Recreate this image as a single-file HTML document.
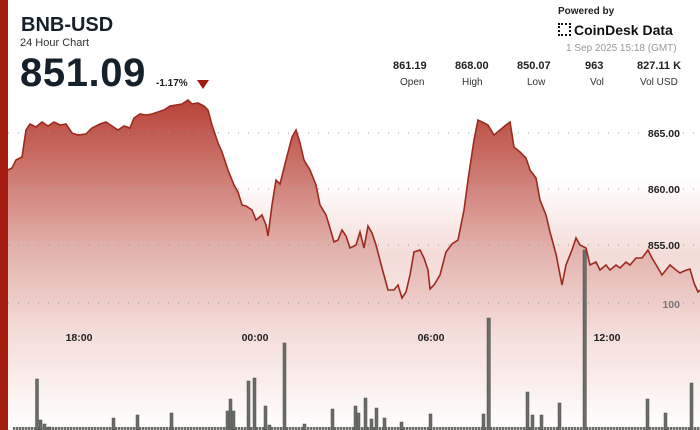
<!DOCTYPE html>
<html><head><meta charset="utf-8"><style>
body{margin:0;width:700px;height:430px;overflow:hidden;background:#fff;font-family:"Liberation Sans",sans-serif;position:relative}
.t{position:absolute;white-space:nowrap}
</style></head><body>
<svg width="700" height="430" style="position:absolute;left:0;top:0">
<defs><linearGradient id="g" x1="0" y1="100" x2="0" y2="430" gradientUnits="userSpaceOnUse">
<stop offset="0" stop-color="#b84338"/>
<stop offset="0.45" stop-color="#e2b1ab"/>
<stop offset="0.7" stop-color="#f4dcd8"/>
<stop offset="1" stop-color="#ffffff"/></linearGradient>
<linearGradient id="bg" x1="0" y1="0" x2="0" y2="1">
<stop offset="0" stop-color="#f4dcd8" stop-opacity="0"/><stop offset="0.3" stop-color="#f4dcd8"/><stop offset="1" stop-color="#fff"/></linearGradient>
<pattern id="pb" x="13" y="0" width="3" height="430" patternUnits="userSpaceOnUse"><rect x="0" y="0" width="2.4" height="430" fill="#6b6e68"/></pattern></defs>
<rect x="8" y="180" width="692" height="250" fill="url(#bg)"/>
<path fill="url(#g)" d="M8,430 L8,170 12,168 16,160 22,157 26,130 30,124 36,127 42,122 48,126 54,122 60,125 66,124 72,133 78,135 86,134 92,128 100,124 106,122 112,126 118,130 124,126 130,128 134,118 140,114 146,115 152,114 158,112 164,110 170,106 176,105 182,104 188,100 192,104 198,103 204,106 208,110 212,125 218,143 222,152 228,170 234,185 238,192 242,205 246,206 252,210 256,220 262,215 266,225 268,236 272,205 276,180 280,184 286,160 292,137 296,130 300,143 304,160 310,170 316,185 320,205 326,215 330,228 334,242 338,240 342,230 346,236 350,248 356,245 360,232 364,248 368,226 372,233 376,245 382,268 388,290 394,290 398,285 402,298 406,292 410,275 414,252 420,250 424,258 428,270 430,289 434,285 440,275 446,252 452,244 458,240 464,210 468,180 474,140 478,120 482,122 488,125 494,135 500,130 506,125 510,122 514,147 520,152 526,158 530,170 536,178 540,200 546,215 550,232 556,254 562,285 566,265 572,250 576,238 580,245 586,248 590,265 596,262 600,270 606,265 610,270 616,265 620,268 626,262 630,265 636,258 642,258 648,250 652,258 658,268 662,275 666,270 670,265 676,270 680,273 684,271 690,269 694,283 698,292 700,290 L700,430 Z"/>
<g stroke="#999" stroke-width="1" stroke-dasharray="1 9">
<line x1="8" y1="133" x2="640" y2="133"/><line x1="8" y1="189" x2="640" y2="189"/><line x1="8" y1="245" x2="640" y2="245"/><line x1="8" y1="303" x2="650" y2="303"/>
<line x1="683" y1="133" x2="700" y2="133"/><line x1="683" y1="189" x2="700" y2="189"/><line x1="683" y1="245" x2="700" y2="245"/><line x1="683" y1="303" x2="700" y2="303"/>
</g>
<rect x="13" y="427" width="687" height="3" fill="url(#pb)"/>
<g fill="#6b6e68" stroke="#4d504b" stroke-width="0.5">
<rect x="35.5" y="379" width="3" height="51"/><rect x="39" y="420" width="3" height="10"/><rect x="43" y="424" width="3" height="6"/><rect x="48" y="427" width="3" height="3"/>
<rect x="112" y="418" width="3" height="12"/><rect x="136" y="415" width="3" height="15"/><rect x="170" y="413" width="3" height="17"/>
<rect x="226" y="411" width="3" height="19"/><rect x="229" y="399" width="3" height="31"/><rect x="232" y="411" width="3" height="19"/>
<rect x="247" y="381" width="3" height="49"/><rect x="253" y="378" width="3" height="52"/><rect x="264" y="406" width="3" height="24"/><rect x="268" y="425" width="3" height="5"/>
<rect x="283" y="343" width="3" height="87"/><rect x="303" y="424" width="3" height="6"/><rect x="331" y="409" width="3" height="21"/>
<rect x="354" y="406" width="3" height="24"/><rect x="357" y="413" width="3" height="17"/><rect x="364" y="398" width="3" height="32"/>
<rect x="370" y="419" width="3" height="11"/><rect x="375" y="408" width="3" height="22"/><rect x="383" y="418" width="3" height="12"/>
<rect x="400" y="422" width="3" height="8"/><rect x="429" y="414" width="3" height="16"/><rect x="482" y="414" width="3" height="16"/>
<rect x="487" y="318" width="3.4" height="112"/><rect x="526" y="392" width="3" height="38"/><rect x="531" y="415" width="3" height="15"/>
<rect x="540" y="415" width="3" height="15"/><rect x="558" y="403" width="3" height="27"/><rect x="583" y="250" width="3.4" height="180"/>
<rect x="646" y="399" width="3" height="31"/><rect x="664" y="413" width="3" height="17"/><rect x="690" y="383" width="3" height="47"/>
</g>
<polyline fill="none" stroke="#9e2a1e" stroke-width="1.6" points="8,170 12,168 16,160 22,157 26,130 30,124 36,127 42,122 48,126 54,122 60,125 66,124 72,133 78,135 86,134 92,128 100,124 106,122 112,126 118,130 124,126 130,128 134,118 140,114 146,115 152,114 158,112 164,110 170,106 176,105 182,104 188,100 192,104 198,103 204,106 208,110 212,125 218,143 222,152 228,170 234,185 238,192 242,205 246,206 252,210 256,220 262,215 266,225 268,236 272,205 276,180 280,184 286,160 292,137 296,130 300,143 304,160 310,170 316,185 320,205 326,215 330,228 334,242 338,240 342,230 346,236 350,248 356,245 360,232 364,248 368,226 372,233 376,245 382,268 388,290 394,290 398,285 402,298 406,292 410,275 414,252 420,250 424,258 428,270 430,289 434,285 440,275 446,252 452,244 458,240 464,210 468,180 474,140 478,120 482,122 488,125 494,135 500,130 506,125 510,122 514,147 520,152 526,158 530,170 536,178 540,200 546,215 550,232 556,254 562,285 566,265 572,250 576,238 580,245 586,248 590,265 596,262 600,270 606,265 610,270 616,265 620,268 626,262 630,265 636,258 642,258 648,250 652,258 658,268 662,275 666,270 670,265 676,270 680,273 684,271 690,269 694,283 698,292 700,290"/>
<rect x="0" y="0" width="8" height="430" fill="#a31a0f"/>
<g font-family="Liberation Sans" font-size="10.5" font-weight="bold" fill="#222" text-anchor="end">
<text x="680" y="137">865.00</text><text x="680" y="193">860.00</text><text x="680" y="249">855.00</text>
<text x="680" y="308" fill="#777">100</text></g>
<g font-family="Liberation Sans" font-size="10.5" font-weight="bold" fill="#222" text-anchor="middle">
<text x="79" y="341">18:00</text><text x="255" y="341">00:00</text><text x="431" y="341">06:00</text><text x="607" y="341">12:00</text></g>
</svg>
<div class="t" style="left:21px;top:14px;font-size:20px;font-weight:bold;color:#15202b">BNB-USD</div>
<div class="t" style="left:20px;top:37px;font-size:11px;color:#333">24 Hour Chart</div>
<div class="t" style="left:20px;top:51px;font-size:40px;font-weight:bold;color:#15202b;letter-spacing:0.6px">851.09</div>
<div class="t" style="left:156px;top:78px;font-size:10px;font-weight:bold;color:#222">-1.17%</div>
<div class="t" style="left:197px;top:80px;width:0;height:0;border-left:6px solid transparent;border-right:6px solid transparent;border-top:9px solid #a31a0f"></div>
<div class="t" style="left:558px;top:6px;font-size:10px;font-weight:bold;color:#222">Powered by</div>
<div class="t" style="left:558px;top:22px;font-size:14px;font-weight:bold;color:#111">
<span style="display:inline-block;width:13px;height:13px;border:2px dotted #111;box-sizing:border-box;vertical-align:-1px;margin-right:3px"></span>CoinDesk Data</div>
<div class="t" style="left:566px;top:43px;font-size:10px;color:#999">1 Sep 2025 15:18 (GMT)</div>
<div class="t" style="left:393px;top:60px;font-size:11px;font-weight:bold;color:#222;width:300px">
<span style="position:absolute;left:0">861.19</span><span style="position:absolute;left:62px">868.00</span><span style="position:absolute;left:124px">850.07</span><span style="position:absolute;left:192px">963</span><span style="position:absolute;left:244px">827.11 K</span></div>
<div class="t" style="left:400px;top:77px;font-size:10px;color:#333;width:300px">
<span style="position:absolute;left:0">Open</span><span style="position:absolute;left:62px">High</span><span style="position:absolute;left:127px">Low</span><span style="position:absolute;left:190px">Vol</span><span style="position:absolute;left:240px">Vol USD</span></div>
</body></html>
